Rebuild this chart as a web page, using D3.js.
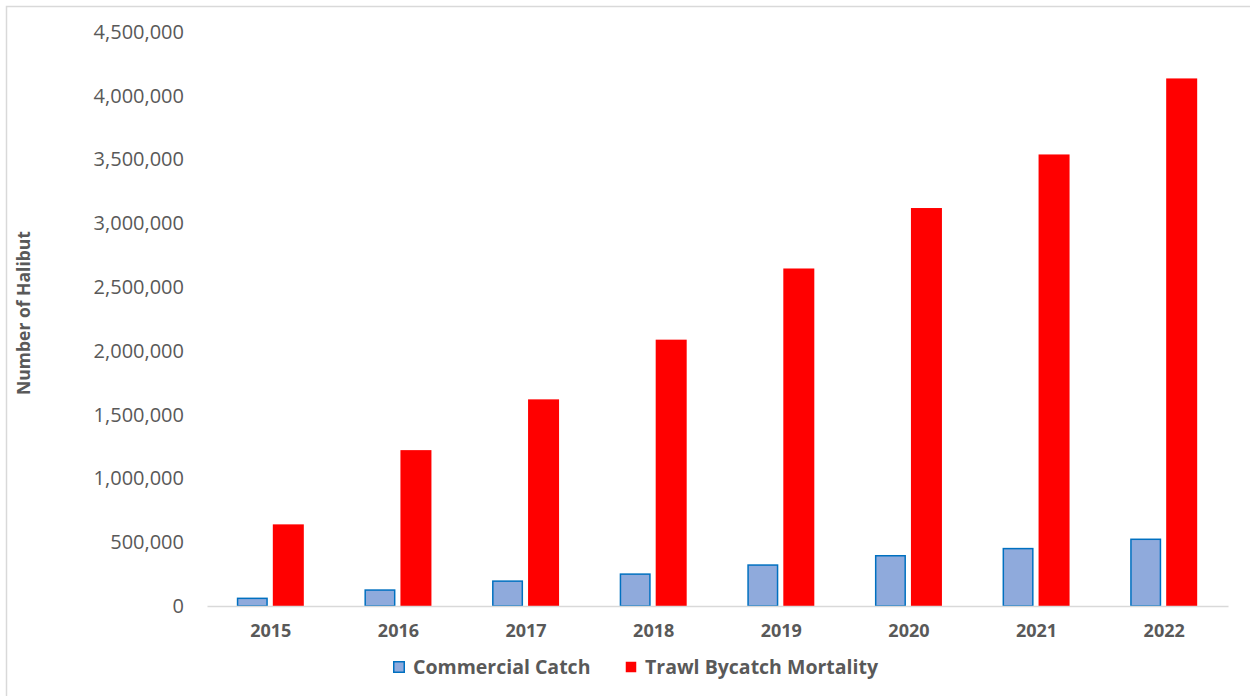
<!DOCTYPE html>
<html>
<head>
<meta charset="utf-8">
<script src="https://cdn.jsdelivr.net/npm/d3@7"></script>
<style>
  html, body { margin: 0; padding: 0; background: #fff; }
  svg { display: block; font-family: "Open Sans", "Noto Sans", sans-serif; }
</style>
</head>
<body>
<svg id="chart" width="1250" height="696"></svg>
<script>
const years = ["2015", "2016", "2017", "2018", "2019", "2020", "2021", "2022"];
const commercialCatch = [60000, 125000, 195000, 250000, 321000, 394000, 450000, 523000];
const trawlBycatch = [640000, 1222000, 1620000, 2088000, 2646000, 3120000, 3540000, 4136000];
const seriesNames = ["Commercial Catch", "Trawl Bycatch Mortality"];
const yTicks = [0, 500000, 1000000, 1500000, 2000000, 2500000, 3000000, 3500000, 4000000, 4500000];

const svg = d3.select("#chart");
const W = 1250, H = 696;
const margin = { left: 207, right: 22, top: 32, bottom: 90 };

svg.append("rect").attr("x", 6.5).attr("y", 6.5).attr("width", W).attr("height", H)
  .attr("fill", "#fff").attr("stroke", "#d9d9d9").attr("stroke-width", 1.5);

const x = d3.scaleBand().domain(years).range([margin.left, W - margin.right]);
const y = d3.scaleLinear().domain([0, 4500000]).range([H - margin.bottom, margin.top]);

// y axis labels
const yAxis = d3.axisLeft(y).tickValues(yTicks).tickSize(0).tickPadding(0)
  .tickFormat(d3.format(","));
const gy = svg.append("g").attr("transform", "translate(184,0)").call(yAxis);
gy.select(".domain").remove();
gy.selectAll("text").attr("fill", "#595959").style("font-size", "20px")
  .style("font-family", "'Open Sans', sans-serif");

// bars
const bw = 31, gap = 6;
const g = svg.append("g");
g.selectAll(".cc").data(years).join("rect")
  .attr("x", d => x(d) + x.bandwidth() / 2 - gap / 2 - bw + 0.75)
  .attr("y", (d, i) => y(commercialCatch[i]))
  .attr("width", bw - 1.5)
  .attr("height", (d, i) => y(0) - y(commercialCatch[i]))
  .attr("fill", "#8faadc").attr("stroke", "#0070c0").attr("stroke-width", 1.5);
g.selectAll(".tb").data(years).join("rect")
  .attr("x", d => x(d) + x.bandwidth() / 2 + gap / 2 - 1)
  .attr("y", (d, i) => y(trawlBycatch[i]))
  .attr("width", bw)
  .attr("height", (d, i) => y(0) - y(trawlBycatch[i]))
  .attr("fill", "#ff0000");

// baseline x axis
const xAxis = d3.axisBottom(x).tickSize(0).tickPadding(18);
const gx = svg.append("g").attr("transform", `translate(0,${y(0)})`).call(xAxis);
gx.select(".domain").attr("stroke", "#d9d9d9").attr("stroke-width", 1.5);
gx.selectAll("text").attr("fill", "#595959").style("font-size", "18px")
  .style("font-weight", "bold").style("font-family", "'Open Sans', sans-serif");

// y axis title
svg.append("text").attr("transform", "translate(30,313) rotate(-90)")
  .attr("text-anchor", "middle").attr("fill", "#595959")
  .style("font-size", "17.5px").style("font-weight", "bold")
  .text("Number of Halibut");

// legend
const legendItems = [
  { name: seriesNames[0], fill: "#8faadc", stroke: "#0070c0", x: 393 },
  { name: seriesNames[1], fill: "#ff0000", stroke: "none", x: 625 }
];
const lg = svg.append("g");
legendItems.forEach(it => {
  lg.append("rect").attr("x", it.x + 0.75).attr("y", 661.75).attr("width", 10.5).attr("height", 10.5)
    .attr("fill", it.fill).attr("stroke", it.stroke).attr("stroke-width", 1.5);
  lg.append("text").attr("x", it.x + 20).attr("y", 674)
    .attr("fill", "#595959").style("font-size", "19.5px").style("font-weight", "bold")
    .text(it.name);
});
</script>
</body>
</html>
